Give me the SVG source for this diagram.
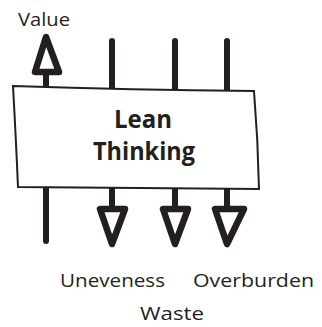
<svg xmlns="http://www.w3.org/2000/svg" width="322" height="327" viewBox="0 0 322 327">
<style>
.ln{stroke:#231f20;stroke-width:6;stroke-linecap:round;fill:none}
.ah{stroke:#231f20;stroke-width:6.5;stroke-linejoin:round;fill:#fff}
.lbl{font-family:"Open Sans","DejaVu Sans",sans-serif;font-size:19px;fill:#231f20}
.ttl{font-family:"Open Sans","DejaVu Sans",sans-serif;font-size:25px;font-weight:bold;fill:#231f20;text-anchor:middle}
</style>
<rect width="322" height="327" fill="#fff"/>
<g id="connectors">
<line class="ln" x1="46" y1="72" x2="46" y2="90"/>
<polygon class="ah" points="46,37 35,72 59,72"/>
<line class="ln" x1="112" y1="41" x2="112" y2="90"/>
<line class="ln" x1="175" y1="41" x2="175" y2="90"/>
<line class="ln" x1="227" y1="41" x2="227" y2="90"/>
<line class="ln" x1="46" y1="185" x2="46" y2="241"/>
<line class="ln" x1="112" y1="185" x2="112" y2="209"/>
<polygon class="ah" points="100,209 125,209 112,244"/>
<line class="ln" x1="175" y1="185" x2="175" y2="209"/>
<polygon class="ah" points="163,209 188,209 175,244"/>
<line class="ln" x1="227" y1="185" x2="227" y2="209"/>
<polygon class="ah" points="215,209 244,209 227,244"/>
</g>
<g id="lean-thinking">
<path d="M13,86 Q130,90 254,91 Q258,140 259,189 Q140,188 18,187 Q16,140 13,86 Z" fill="#fff" stroke="#231f20" stroke-width="2"/>
<text class="ttl" x="143" y="128" textLength="58" lengthAdjust="spacingAndGlyphs">Lean</text>
<text class="ttl" x="144" y="160" textLength="102" lengthAdjust="spacingAndGlyphs">Thinking</text>
</g>
<g id="labels">
<text class="lbl" x="18" y="26" textLength="52" lengthAdjust="spacingAndGlyphs">Value</text>
<text class="lbl" x="60" y="287" textLength="105" lengthAdjust="spacingAndGlyphs">Uneveness</text>
<text class="lbl" x="193" y="287" textLength="121" lengthAdjust="spacingAndGlyphs">Overburden</text>
<text class="lbl" x="140" y="320" textLength="64" lengthAdjust="spacingAndGlyphs">Waste</text>
</g>
</svg>
